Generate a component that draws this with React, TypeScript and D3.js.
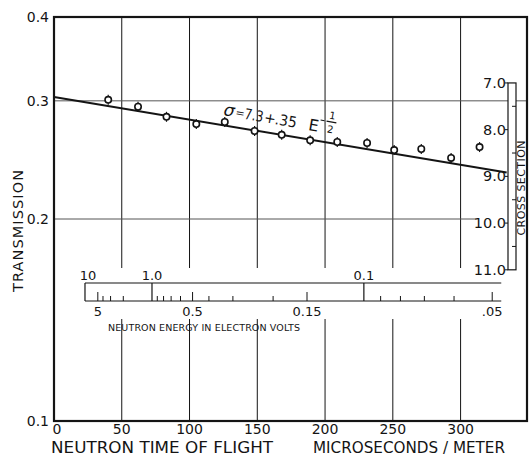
import React from "react";
import * as d3 from "d3";

// Time of flight (microseconds per meter) and measured transmission
const tof = [40, 62, 83, 105, 126, 148, 168, 189, 209, 231, 251, 271, 293, 314];
const transmission = [0.301, 0.294, 0.284, 0.277, 0.279, 0.2705, 0.267, 0.262, 0.2605, 0.2596, 0.2534, 0.2543, 0.2466, 0.256];

const xTicks = [0, 50, 100, 150, 200, 250, 300];
const yTicks = [0.1, 0.2, 0.3, 0.4];
const yTickLabels = ["0.1", "0.2", "0.3", "0.4"];

// Cross-section scale (barns) and transmission at its ends
const crossTicks = [7, 8, 9, 10, 11];
const crossTickLabels = ["7.0", "8.0", "9.0", "10.0", "11.0"];
const crossHalfTicks = [7.5, 8.5, 9.5, 10.5];
const crossEndTransmission = [0.319, 0.168];

// Fit: sigma = 7.3 + .35 E^-1/2
const sigma0 = 7.3;
const sigmaCoef = 0.35;
const fitRange = [0, 334];

// Energy scale (eV); E = (72.3 / t)^2
const tofConst = 72.3;
const energyEnds = [10, 0.048];
const energyTop = [10, 1, 0.1];
const energyTopLabels = ["10", "1.0", "0.1"];
const energyBottom = [5, 0.5, 0.15, 0.05];
const energyBottomLabels = ["5", "0.5", "0.15", ".05"];
const energyLong = [1, 0.1];
const energyMinor = [4, 3, 2, 0.9, 0.8, 0.7, 0.6, 0.4, 0.3, 0.2, 0.09, 0.08, 0.07, 0.06];

const W = 529;
const H = 456;
const ink = "#141414";
const font = "'DejaVu Sans', 'Liberation Sans', sans-serif";

export default function App() {
  const x = d3.scaleLinear().domain([0, 349]).range([54, 527]);
  const y = d3.scaleLog().domain([0.1, 0.4]).range([421, 17]);
  const cross = d3
    .scaleLinear()
    .domain([7, 11])
    .range([y(crossEndTransmission[0]), y(crossEndTransmission[1])]);
  const tOfE = (e: number) => tofConst / Math.sqrt(e);
  const xE = (e: number) => x(tOfE(e));

  const fitLine = d3
    .line<number>()
    .x((t) => x(t))
    .y((t) => cross(sigma0 + (sigmaCoef * t) / tofConst));

  const left = x(0);
  const right = x(349);
  const top = y(0.4);
  const bottom = y(0.1);

  // energy box geometry
  const bx0 = xE(energyEnds[0]);
  const bx1 = xE(energyEnds[1]);
  const by0 = 283;
  const by1 = 301;

  // cross-section bar geometry
  const barX0 = 508;
  const barX1 = 516;

  return (
    <svg
      width={W}
      height={H}
      style={{ position: "absolute", left: 0, top: 0, background: "#fff" }}
      fontFamily={font}
    >
      <rect width={W} height={H} fill="#fff" />

      {/* grid */}
      {xTicks.slice(1).map((t) => (
        <line key={"gx" + t} x1={x(t)} x2={x(t)} y1={top} y2={bottom} stroke={ink} strokeWidth={1} />
      ))}
      {yTicks.slice(1, 3).map((v) => (
        <line key={"gy" + v} x1={left} x2={right} y1={y(v)} y2={y(v)} stroke="#555" strokeWidth={1} />
      ))}

      {/* gaps in the grid behind the cross-section labels */}
      {crossTicks.map((s) => (
        <rect key={"cb" + s} x={476} y={cross(s) - 9} width={barX0 - 476} height={17} fill="#fff" />
      ))}
      <rect x={barX1 + 1} y={136} width={right - barX1 - 2} height={104} fill="#fff" />

      {/* energy scale */}
      <rect x={bx0 - 4} y={268} width={bx1 - bx0 + 8} height={by0 - 268} fill="#fff" />
      <rect x={bx0 - 4} y={by1} width={bx1 - bx0 + 8} height={18} fill="#fff" />
      <rect x={bx0} y={by0} width={bx1 - bx0} height={by1 - by0} fill="#fff" />
      <line x1={bx0} x2={bx1} y1={by0} y2={by0} stroke={ink} strokeWidth={1.2} />
      <line x1={bx0} x2={bx1} y1={by1} y2={by1} stroke={ink} strokeWidth={1.2} />
      <line x1={bx0} x2={bx0} y1={by0} y2={by1} stroke={ink} strokeWidth={1.2} />
      {energyLong.map((e) => (
        <line key={"el" + e} x1={xE(e)} x2={xE(e)} y1={by0} y2={by1} stroke={ink} strokeWidth={1.2} />
      ))}
      {energyBottom.map((e) => (
        <line key={"eb" + e} x1={xE(e)} x2={xE(e)} y1={by1 - 9} y2={by1} stroke={ink} strokeWidth={1} />
      ))}
      {energyMinor.map((e) => (
        <line key={"em" + e} x1={xE(e)} x2={xE(e)} y1={by1 - 5} y2={by1} stroke={ink} strokeWidth={1} />
      ))}
      {energyTop.map((e, i) => (
        <text key={"et" + e} x={i === 0 ? xE(e) + 3 : xE(e)} y={280} textAnchor="middle" fontSize={13} fill={ink}>
          {energyTopLabels[i]}
        </text>
      ))}
      {energyBottom.map((e, i) => (
        <text key={"ebl" + e} x={xE(e)} y={316} textAnchor="middle" fontSize={13} fill={ink}>
          {energyBottomLabels[i]}
        </text>
      ))}
      <text x={108} y={331} fontSize={9.5} fill={ink} textLength={192} lengthAdjust="spacing">
        NEUTRON ENERGY IN ELECTRON VOLTS
      </text>

      {/* fit line */}
      <path d={fitLine(fitRange) ?? ""} fill="none" stroke={ink} strokeWidth={2} />

      {/* formula */}
      <g transform="translate(223,115) rotate(10)" fill={ink}>
        <text x={0} y={0} fontSize={17} fontStyle="italic">σ</text>
        <text x={12} y={-1} fontSize={11}>=</text>
        <text x={21} y={0} fontSize={15} textLength={19} lengthAdjust="spacingAndGlyphs">7.3</text>
        <text x={41} y={0} fontSize={14}>+</text>
        <text x={52} y={0} fontSize={15} textLength={22} lengthAdjust="spacingAndGlyphs">.35</text>
        <text x={86} y={0} fontSize={16}>E</text>
        <line x1={97} x2={101} y1={-12} y2={-12} stroke={ink} strokeWidth={1.2} />
        <line x1={103} x2={113} y1={-12} y2={-12} stroke={ink} strokeWidth={1.2} />
        <text x={108} y={-15} fontSize={10} textAnchor="middle">1</text>
        <text x={108} y={-1} fontSize={10} textAnchor="middle">2</text>
      </g>

      {/* data points */}
      {tof.map((t, i) => (
        <g key={"p" + t}>
          <line x1={x(t)} x2={x(t)} y1={y(transmission[i]) - 5} y2={y(transmission[i]) + 5} stroke={ink} strokeWidth={1.2} />
          <circle cx={x(t)} cy={y(transmission[i])} r={3.2} fill="#fff" stroke={ink} strokeWidth={1.6} />
        </g>
      ))}

      {/* cross-section scale */}
      {crossTicks.map((s, i) => (
        <g key={"cs" + s}>
          <text x={506} y={cross(s) + 5} textAnchor="end" fontSize={14.5} fill={ink}>
            {crossTickLabels[i]}
          </text>
          <line x1={barX0 - 3} x2={barX0} y1={cross(s)} y2={cross(s)} stroke={ink} strokeWidth={1} />
        </g>
      ))}
      <rect x={barX0} y={cross(7)} width={barX1 - barX0} height={cross(11) - cross(7)} fill="#fff" stroke={ink} strokeWidth={1.2} />
      {crossHalfTicks.map((s) => (
        <line key={"ch" + s} x1={barX1 - 4} x2={barX1} y1={cross(s)} y2={cross(s)} stroke={ink} strokeWidth={1} />
      ))}
      <text transform="translate(525,188) rotate(-90)" textAnchor="middle" fontSize={11} fill={ink} textLength={95} lengthAdjust="spacing">
        CROSS SECTION
      </text>

      {/* frame */}
      <rect x={left} y={top} width={right - left} height={bottom - top} fill="none" stroke={ink} strokeWidth={2.2} />

      {/* y tick labels */}
      {yTicks.map((v, i) => (
        <text key={"yl" + v} x={49} y={y(v) + 5} textAnchor="end" fontSize={14} fill={ink}>
          {yTickLabels[i]}
        </text>
      ))}
      <text transform="translate(23,231) rotate(-90)" textAnchor="middle" fontSize={14.5} fill={ink} textLength={122} lengthAdjust="spacing">
        TRANSMISSION
      </text>

      {/* x tick labels */}
      {xTicks.map((t) => (
        <text key={"xl" + t} x={t === 0 ? x(t) + 3 : x(t)} y={434} textAnchor="middle" fontSize={14} fill={ink}>
          {t}
        </text>
      ))}
      <text x={51} y={453} fontSize={15} fill={ink} textLength={222} lengthAdjust="spacingAndGlyphs">
        NEUTRON TIME OF FLIGHT
      </text>
      <text x={313} y={453} fontSize={15} fill={ink} textLength={192} lengthAdjust="spacingAndGlyphs">
        MICROSECONDS / METER
      </text>
    </svg>
  );
}
